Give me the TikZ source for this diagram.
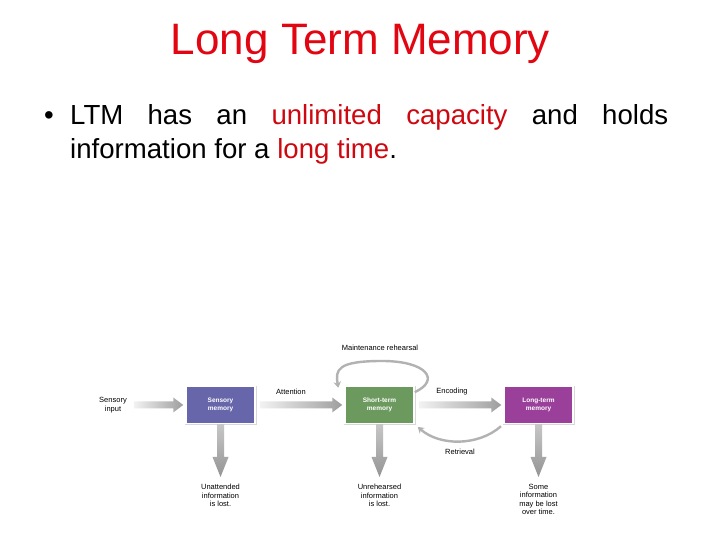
\documentclass[tikz,border=0pt]{standalone}
\usepackage{fontspec}
\setmainfont{Liberation Sans}
\usetikzlibrary{calc,arrows.meta,shadows}
\definecolor{titlered}{RGB}{226,6,18}
\definecolor{wordred}{RGB}{206,8,16}
\definecolor{sensblue}{RGB}{104,102,170}
\definecolor{stgreen}{RGB}{108,154,94}
\definecolor{ltpurple}{RGB}{154,64,154}
\tikzset{
  membox/.style={draw=white,line width=1.5pt,minimum width=69pt,minimum height=37pt,align=center,text=white,font=\fontsize{6.5}{7.5}\selectfont\bfseries,drop shadow={shadow xshift=0.3pt,shadow yshift=-0.8pt,shadow scale=1.05,opacity=0.3}},
  smalltext/.style={align=center,inner sep=0pt,font=\fontsize{7.5}{8.5}\selectfont},
  bodytext/.style={inner sep=0pt,font=\fontsize{27.6}{34}\selectfont},
  fatright/.style={left color=black!5,right color=black!38},
  fatdown/.style={top color=black!22,bottom color=black!42},
  curvarr/.style={draw=black!30,line width=2.4pt,-{Stealth[length=6pt,width=7.5pt]}}
}
\newcommand{\fatarrowright}[2]{\shade[fatright] ($(#1.east)+(4,3.5)$) -- ($(#2.west)+(-12,3.5)$) -- ($(#2.west)+(-12,7.5)$) -- ($(#2.west)+(-2,0)$) -- ($(#2.west)+(-12,-7.5)$) -- ($(#2.west)+(-12,-3.5)$) -- ($(#1.east)+(4,-3.5)$) -- cycle;}
\newcommand{\fatarrowdown}[2]{\shade[fatdown] ($(#1.south)+(-3.5,0)$) -- ($(#2.north)+(-3.5,27)$) -- ($(#2.north)+(-8,27)$) -- ($(#2.north)+(0,7)$) -- ($(#2.north)+(8,27)$) -- ($(#2.north)+(3.5,27)$) -- ($(#1.south)+(3.5,0)$) -- cycle;}
\begin{document}
\begin{tikzpicture}[x=1pt,y=1pt]
  \fill[white] (0,0) rectangle (720,540);
  \useasboundingbox (0,0) rectangle (720,540);

  \node[font=\fontsize{44}{50}\selectfont,text=titlered,anchor=base] (title) at (360.5,485) {Long Term Memory};
  \node[bodytext,anchor=base] (bullet) at (49,415) {\textbullet};
  \node[bodytext,anchor=base west] (line1) at (70,415) {\hbox to 598pt{LTM\hfill has\hfill an\hfill\textcolor{wordred}{unlimited}\hfill\textcolor{wordred}{capacity}\hfill and\hfill holds}};
  \node[bodytext,anchor=base west] (line2) at (70,381) {information for a \textcolor{wordred}{long time}.};

  \node[membox,fill=sensblue] (sm) at (220.5,135) {Sensory\\memory};
  \node[membox,fill=stgreen] (stm) at (379.5,135) {Short-term\\memory};
  \node[membox,fill=ltpurple] (ltm) at (538.5,135) {Long-term\\memory};

  \node[smalltext,inner sep=3pt] (sin) at (113,135) {Sensory\\input};
  \node[smalltext] (att) at (291,148) {Attention};
  \node[smalltext] (enc) at (452,148) {Encoding};
  \node[smalltext] (mr) at (380,192) {Maintenance rehearsal};
  \node[smalltext] (ret) at (460,88) {Retrieval};
  \node[smalltext,anchor=north] (lost1) at (220.5,56) {Unattended\\information\\is lost.};
  \node[smalltext,anchor=north] (lost2) at (379.5,56) {Unrehearsed\\information\\is lost.};
  \node[smalltext,anchor=north] (lost3) at (538.5,56) {Some\\information\\may be lost\\over time.};

  \fatarrowright{sin}{sm}
  \fatarrowright{sm}{stm}
  \fatarrowright{stm}{ltm}
  \fatarrowdown{sm}{lost1}
  \fatarrowdown{stm}{lost2}
  \fatarrowdown{ltm}{lost3}

  \coordinate (mrtop) at (382,179);
  \draw[curvarr] (stm.20) .. controls +(26,12) and +(45,0) .. (mrtop) .. controls +(-45,0) and +(-3,18) .. ($(stm.north west)+(-6,-2)$);
  \draw[curvarr,shorten <=3pt,shorten >=4pt] (ltm.south west) .. controls +(-25,-22) and +(25,-22) .. (stm.south east);
\end{tikzpicture}
\end{document}
